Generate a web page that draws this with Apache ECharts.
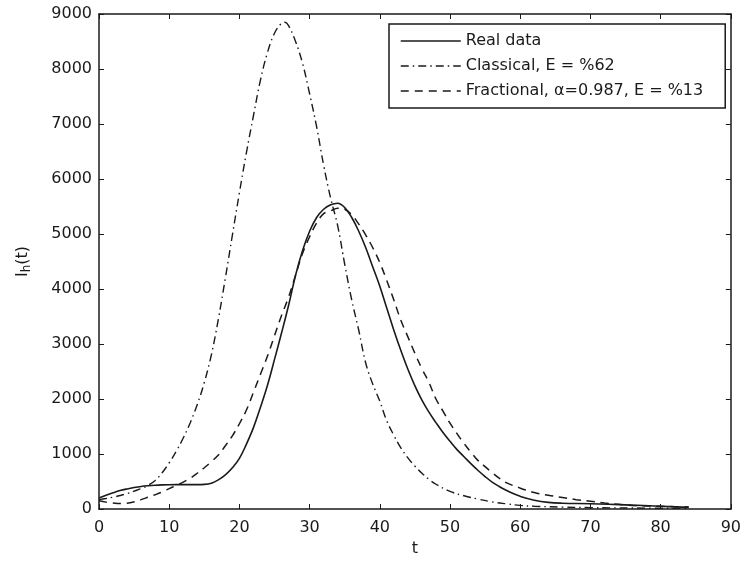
<!DOCTYPE html>
<html>
<head>
<meta charset="utf-8">
<script src="https://cdn.jsdelivr.net/npm/echarts@6/dist/echarts.min.js"></script>
<style>
html,body{margin:0;padding:0;background:#fff;}
#chart{width:744px;height:562px;}
</style>
</head>
<body>
<div id="chart"></div>
<script>
// Tick settings
var xTicks = [0, 90, 10];
var yTicks = [0, 9000, 1000];

// Series names
var seriesNames = ['Real data', 'Classical, E = %62', 'Fractional, \u03b1=0.987, E = %13'];

// Real data
var tReal = [0,1,2,3,4,5,6,7,8,9,10,12,14,15,16,17,18,19,20,21,22,23,24,25,26,27,28,29,30,31,32,33,34,35,36,37,38,39,40,41,42,43,44,45,46,47,48,49,50,51,52,53,54,55,56,57,58,59,60,62,64,66,70,75,80,84];
var iReal = [200,250,295,335,365,390,410,423,432,438,441,443,443,447,470,530,620,750,920,1180,1480,1850,2250,2720,3200,3700,4250,4700,5050,5300,5450,5530,5560,5480,5300,5050,4750,4400,4050,3650,3250,2880,2540,2240,1980,1760,1570,1390,1230,1080,950,820,700,590,490,410,340,280,230,160,120,105,95,75,50,30];

// Classical model
var tClassical = [0,1,2,3,4,5,6,7,8,9,10,11,12,13,14,15,16,17,18,19,20,21,22,23,24,25,26,26.5,27,28,29,30,31,32,33,34,35,36,37,38,39,40,41,42,43,44,45,46,47,48,50,52,54,56,58,60,62,66,70,76,84];
var iClassical = [170,190,215,245,280,325,370,430,520,660,840,1050,1290,1570,1900,2300,2800,3450,4200,4980,5750,6480,7150,7800,8300,8650,8830,8850,8790,8500,8100,7550,6950,6250,5650,5150,4450,3800,3250,2650,2270,1960,1600,1340,1110,930,780,650,540,450,320,240,180,130,95,65,50,35,25,18,10];

// Fractional model
var tFractional = [0,1,2,3,4,5,6,7,8,9,10,11,12,13,14,15,16,17,18,19,20,21,22,23,24,25,26,27,28,29,30,31,32,33,34,35,36,37,38,39,40,41,42,43,44,45,46,47,48,49,50,51,52,53,54,55,56,57,58,60,62,64,66,68,70,72,74,76,78,80,82,84];
var iFractional = [150,125,110,100,105,130,170,215,260,310,370,430,490,560,650,750,860,980,1150,1330,1550,1800,2120,2450,2780,3150,3520,3850,4250,4650,4950,5200,5370,5420,5470,5450,5350,5180,4980,4750,4480,4150,3800,3430,3130,2830,2550,2300,2000,1780,1560,1370,1190,1030,880,770,660,560,480,380,300,250,210,170,140,110,85,65,55,48,42,38];

function pairs(t, v) { return t.map(function (x, i) { return [x, v[i]]; }); }

var FONT = 'DejaVu Sans';
var INK = '#1a1a1a';

var chart = echarts.init(document.getElementById('chart'), null, {renderer: 'canvas'});

var axisLine = {show: true, onZero: false, lineStyle: {color: INK, width: 1.5}};
var axisTick = {show: true, inside: true, length: 5, lineStyle: {color: INK, width: 1}};
var plain = function (v) { return String(v); };

chart.setOption({
  animation: false,
  backgroundColor: '#fff',
  grid: {left: 99, right: 11, top: 14, bottom: 49, containLabel: false},
  legend: {
    show: true,
    orient: 'vertical',
    left: 389,
    top: 24,
    padding: [9, 22, 9, 11],
    itemGap: 9,
    itemWidth: 60,
    itemHeight: 14,
    backgroundColor: '#fff',
    borderColor: INK,
    borderWidth: 1.5,
    borderRadius: 0,
    itemStyle: {opacity: 0, borderWidth: 0},
    lineStyle: {width: 1.5, opacity: 1},
    textStyle: {fontFamily: FONT, fontSize: 16, color: INK, lineHeight: 16},
    data: seriesNames
  },
  xAxis: [{
    type: 'value', min: xTicks[0], max: xTicks[1], interval: xTicks[2],
    position: 'bottom',
    name: 't', nameLocation: 'middle', nameGap: 32,
    nameTextStyle: {fontFamily: FONT, fontSize: 16, color: INK},
    axisLine: axisLine, axisTick: axisTick,
    axisLabel: {fontFamily: FONT, fontSize: 16, color: INK, margin: 11, formatter: plain},
    splitLine: {show: false}
  }, {
    type: 'value', min: xTicks[0], max: xTicks[1], interval: xTicks[2],
    position: 'top',
    axisLine: axisLine, axisTick: axisTick,
    axisLabel: {show: false}, splitLine: {show: false}
  }],
  yAxis: [{
    type: 'value', min: yTicks[0], max: yTicks[1], interval: yTicks[2],
    position: 'left',
    name: '{a|I}{b|h}{a|(t)}', nameLocation: 'middle', nameGap: 66, nameRotate: 90,
    nameTextStyle: {
      fontFamily: FONT, fontSize: 16, color: INK,
      rich: {
        a: {fontFamily: FONT, fontSize: 16, color: INK},
        b: {fontFamily: FONT, fontSize: 12, color: INK, padding: [8, 0, 0, 0]}
      }
    },
    axisLine: axisLine, axisTick: axisTick,
    axisLabel: {fontFamily: FONT, fontSize: 16, color: INK, margin: 7, formatter: plain},
    splitLine: {show: false}
  }, {
    type: 'value', min: yTicks[0], max: yTicks[1], interval: yTicks[2],
    position: 'right',
    axisLine: axisLine, axisTick: axisTick,
    axisLabel: {show: false}, splitLine: {show: false}
  }],
  series: [{
    name: seriesNames[0], type: 'line', xAxisIndex: 0, yAxisIndex: 0,
    data: pairs(tReal, iReal), showSymbol: false, symbol: 'none', smooth: 0.4,
    lineStyle: {color: INK, width: 1.6, type: 'solid'},
    itemStyle: {color: INK}, z: 3
  }, {
    name: seriesNames[1], type: 'line', xAxisIndex: 0, yAxisIndex: 0,
    data: pairs(tClassical, iClassical), showSymbol: false, symbol: 'none', smooth: 0.4,
    lineStyle: {color: INK, width: 1.4, type: [8, 4, 1.5, 4]},
    itemStyle: {color: INK}, z: 2
  }, {
    name: seriesNames[2], type: 'line', xAxisIndex: 0, yAxisIndex: 0,
    data: pairs(tFractional, iFractional), showSymbol: false, symbol: 'none', smooth: 0.4,
    lineStyle: {color: INK, width: 1.5, type: [8, 6]},
    itemStyle: {color: INK}, z: 2
  }]
});
</script>
</body>
</html>
